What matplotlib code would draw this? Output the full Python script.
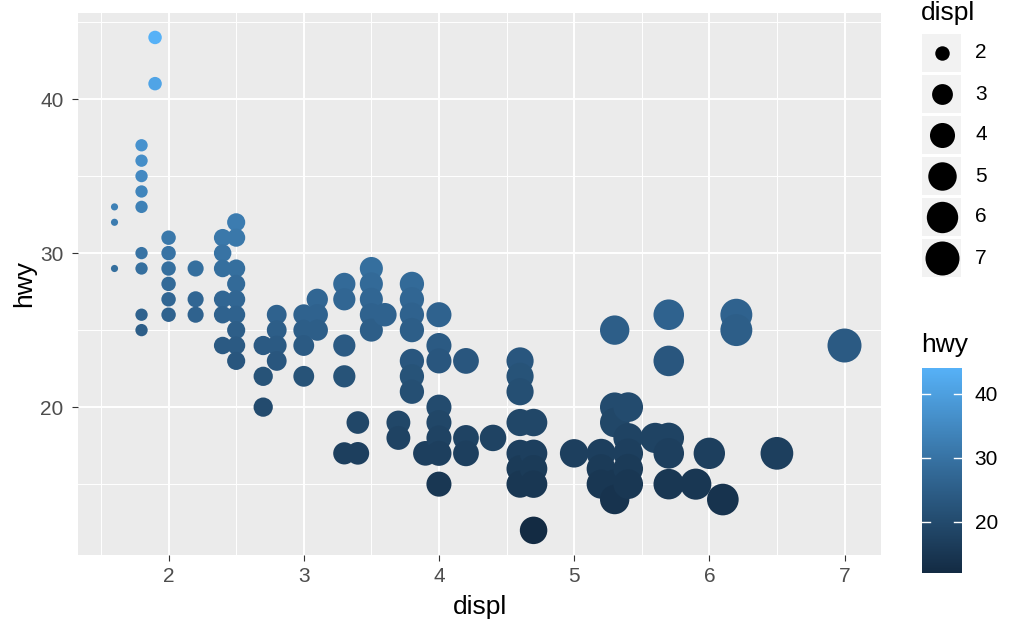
import numpy as np
import matplotlib
matplotlib.use("Agg")
import matplotlib.pyplot as plt
from matplotlib.colors import LinearSegmentedColormap, Normalize
from matplotlib.patches import Rectangle

plt.rcParams['font.family'] = ['Liberation Sans', 'DejaVu Sans']

# unique (displ, hwy) pairs
displ = [1.6, 1.6, 1.6,
         1.8, 1.8, 1.8, 1.8, 1.8, 1.8, 1.8, 1.8, 1.8,
         1.9, 1.9,
         2.0, 2.0, 2.0, 2.0, 2.0, 2.0,
         2.2, 2.2, 2.2,
         2.4, 2.4, 2.4, 2.4, 2.4, 2.4,
         2.5, 2.5, 2.5, 2.5, 2.5, 2.5, 2.5, 2.5, 2.5,
         2.7, 2.7, 2.7,
         2.8, 2.8, 2.8, 2.8,
         3.0, 3.0, 3.0, 3.0,
         3.1, 3.1, 3.1,
         3.3, 3.3, 3.3, 3.3, 3.3,
         3.4, 3.4,
         3.5, 3.5, 3.5, 3.5, 3.5,
         3.6,
         3.7, 3.7,
         3.8, 3.8, 3.8, 3.8, 3.8, 3.8, 3.8,
         3.9,
         4.0, 4.0, 4.0, 4.0, 4.0, 4.0, 4.0, 4.0,
         4.2, 4.2, 4.2,
         4.4,
         4.6, 4.6, 4.6, 4.6, 4.6, 4.6, 4.6,
         4.7, 4.7, 4.7, 4.7, 4.7,
         5.0,
         5.2, 5.2, 5.2,
         5.3, 5.3, 5.3, 5.3, 5.3,
         5.4, 5.4, 5.4, 5.4, 5.4,
         5.6,
         5.7, 5.7, 5.7, 5.7, 5.7,
         5.9, 6.0, 6.1,
         6.2, 6.2,
         6.5, 7.0]
hwy = [33, 32, 29,
       37, 36, 35, 34, 33, 30, 29, 26, 25,
       44, 41,
       31, 30, 29, 28, 27, 26,
       29, 27, 26,
       31, 30, 29, 27, 26, 24,
       32, 31, 29, 28, 27, 26, 25, 24, 23,
       24, 22, 20,
       26, 25, 24, 23,
       26, 25, 24, 22,
       27, 26, 25,
       28, 27, 24, 22, 17,
       19, 17,
       29, 28, 27, 26, 25,
       26,
       19, 18,
       28, 27, 26, 25, 23, 22, 21,
       17,
       26, 24, 23, 20, 19, 18, 17, 15,
       23, 18, 17,
       18,
       23, 22, 21, 19, 17, 16, 15,
       19, 17, 16, 15, 12,
       17,
       17, 16, 15,
       25, 20, 19, 15, 14,
       20, 18, 17, 16, 15,
       18,
       26, 23, 18, 17, 15,
       15, 17, 14,
       26, 25,
       17, 24]

x_ticks = [2, 3, 4, 5, 6, 7]
y_ticks = [20, 30, 40]
x_minor = [1.5, 2.5, 3.5, 4.5, 5.5, 6.5]
y_minor = [15, 25, 35, 45]
size_breaks = [2, 3, 4, 5, 6, 7]
color_breaks = [20, 30, 40]

displ = np.array(displ)
hwy = np.array(hwy)
d_lo, d_hi = displ.min(), displ.max()
h_lo, h_hi = hwy.min(), hwy.max()

# ggplot default continuous colour gradient
cmap = LinearSegmentedColormap.from_list("gg", ["#132B43", "#336A98", "#56B1F7"])
norm = Normalize(h_lo, h_hi)


def point_area(d):
    # scale_size: area palette, range 1..6 (mm), converted to matplotlib pt^2
    t = np.sqrt((np.asarray(d, float) - d_lo) / (d_hi - d_lo))
    size = 1 + 5 * t
    diam_px = 1.887 * (size * 72.27 / 25.4 + 0.945)
    return (diam_px * 0.72) ** 2


fig = plt.figure(figsize=(10.24, 6.32), dpi=100)
W, H = 1024, 632
ax = fig.add_axes([78 / W, 1 - 555 / H, (881 - 78) / W, (555 - 12.8) / H])
ax.set_facecolor("#EBEBEB")
for s in ax.spines.values():
    s.set_visible(False)

ax.scatter(displ, hwy, s=point_area(displ), c=hwy, cmap=cmap, norm=norm,
           linewidths=0, zorder=3)

ax.set_xticks(x_ticks)
ax.set_yticks(y_ticks)
ax.set_xticks(x_minor, minor=True)
ax.set_yticks(y_minor, minor=True)
xr = d_hi - d_lo
yr = h_hi - h_lo
ax.set_xlim(d_lo - 0.05 * xr, d_hi + 0.05 * xr)
ax.set_ylim(h_lo - 0.05 * yr, h_hi + 0.05 * yr)
ax.grid(which="major", color="white", lw=1.4, zorder=0)
ax.grid(which="minor", color="white", lw=0.7, zorder=0)
ax.set_axisbelow(True)
ax.tick_params(which="major", length=4.3, width=0.8, color="#333333",
               labelcolor="#4D4D4D", labelsize=15)
ax.tick_params(axis="x", which="major", pad=4.5)
ax.tick_params(axis="y", which="major", pad=6)
ax.tick_params(which="minor", length=0)
ax.set_xlabel("displ", fontsize=19, labelpad=6)
ax.set_ylabel("hwy", fontsize=19, labelpad=3)

# size legend drawn in pixel space
lax = fig.add_axes([0, 0, 1, 1], facecolor="none")
lax.set_xlim(0, W)
lax.set_ylim(H, 0)
lax.axis("off")
lax.text(921, 20, "displ", fontsize=19, ha="left", va="baseline")
for i, b in enumerate(size_breaks):
    cy = 53 + 41 * i
    lax.add_patch(Rectangle((922, cy - 19), 39, 38, color="#F2F2F2", lw=0))
    lax.scatter([941.5], [cy], s=point_area(b), color="black", linewidths=0)
    lax.text(975, cy, str(b), fontsize=15, ha="left", va="center")

# colour bar
lax.text(921, 357, "hwy", fontsize=19, ha="left", va="bottom")
cax = fig.add_axes([922 / W, 1 - 573 / H, 40 / W, 205 / H])
sm = plt.cm.ScalarMappable(norm=norm, cmap=cmap)
cb = fig.colorbar(sm, cax=cax, ticks=color_breaks)
cb.outline.set_visible(False)
cax.tick_params(length=0, labelsize=15, pad=9)
for t in color_breaks:
    cax.plot([0, 0.2], [t, t], color="white", lw=1, transform=cax.get_yaxis_transform())
    cax.plot([0.8, 1], [t, t], color="white", lw=1, transform=cax.get_yaxis_transform())

fig.savefig("out.png", dpi=100)
